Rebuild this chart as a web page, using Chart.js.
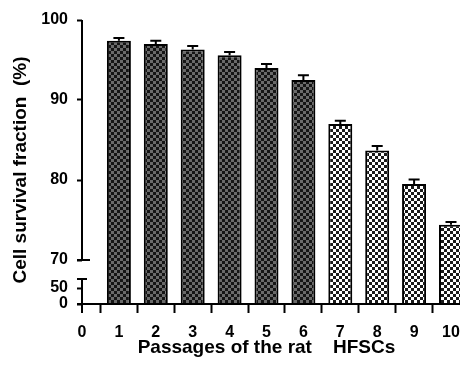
<!DOCTYPE html>
<html>
<head>
<meta charset="utf-8">
<script src="https://cdn.jsdelivr.net/npm/chart.js@4/dist/chart.umd.min.js"></script>
<style>
html,body{margin:0;padding:0;background:#fff;}
#wrap{width:460px;height:371px;position:relative;}
</style>
</head>
<body>
<div id="wrap"><canvas id="c" width="460" height="371"></canvas></div>
<script>
// ---- data ----
const passages = ['0','1','2','3','4','5','6','7','8','9','10'];
const survival = [null, 97.4, 97.0, 96.3, 95.6, 94.0, 92.5, 87.0, 83.7, 79.5, 74.4];
const sem      = [null, 0.35, 0.4, 0.45, 0.4, 0.5, 0.6, 0.4, 0.55, 0.55, 0.35];
const yTickLabels = [0, 50, 70, 80, 90, 100];
const darkUntil = 6; // passages 1-6 dark hatch, 7-10 light hatch
const xTitle = 'Passages of the rat    HFSCs';
const yTitle = 'Cell survival fraction  (%)';

// broken axis transform: lower segment (0-50) compressed, upper (70-100) linear
const LOW_BASE = 64.5, LOW_SLOPE = 2/50;
function tf(v){ return v >= 70 ? v : LOW_BASE + v*LOW_SLOPE; }

function makePattern(light, dark){
  const t = document.createElement('canvas');
  t.width = 6; t.height = 6;
  const g = t.getContext('2d');
  g.fillStyle = dark; g.fillRect(0,0,6,6);
  g.fillStyle = light;
  g.fillRect(0,0,3,3); g.fillRect(3,3,3,3);
  return document.getElementById('c').getContext('2d').createPattern(t,'repeat');
}
const darkPat = makePattern('#6a6a6a', '#151515');
const lightPat = makePattern('#ffffff', '#1a1a1a');

const FONT = "'Liberation Sans', Arial, sans-serif";

const axisPlugin = {
  id: 'axisPlugin',
  afterDraw(chart){
    const ctx = chart.ctx, y = chart.scales.y;
    const ax = chart.chartArea.left;
    const p70 = y.getPixelForValue(tf(70));
    const p100 = y.getPixelForValue(tf(100));
    const p0 = y.getPixelForValue(tf(0));
    const p50 = y.getPixelForValue(tf(50));
    const breakTop = p50 - 9;
    ctx.save();
    ctx.strokeStyle = '#000';
    ctx.lineWidth = 2;
    ctx.lineCap = 'butt';
    ctx.beginPath();
    ctx.moveTo(ax, p100); ctx.lineTo(ax, p70);
    ctx.moveTo(ax-5, p70); ctx.lineTo(ax+8, p70);
    ctx.moveTo(ax, breakTop); ctx.lineTo(ax, p0 + 9);
    ctx.moveTo(ax-5, breakTop); ctx.lineTo(ax+5, breakTop);
    ctx.moveTo(ax-5, p0); ctx.lineTo(chart.width, p0);
    ctx.stroke();
    // y axis title (placed slightly below axis centre as in the reference)
    ctx.fillStyle = '#000';
    ctx.font = 'bold 19px ' + FONT;
    ctx.textAlign = 'center';
    ctx.textBaseline = 'middle';
    ctx.translate(21, 170);
    ctx.rotate(-Math.PI/2);
    ctx.fillText(yTitle, 0, 0);
    ctx.restore();
  }
};

const errPlugin = {
  id: 'errPlugin',
  afterDatasetsDraw(chart){
    const ctx = chart.ctx, y = chart.scales.y;
    const meta = chart.getDatasetMeta(0);
    ctx.save();
    ctx.strokeStyle = '#000';
    ctx.lineWidth = 2;
    meta.data.forEach((bar, i) => {
      if (survival[i] == null) return;
      const top = y.getPixelForValue(tf(survival[i]));
      const e = y.getPixelForValue(tf(survival[i] + sem[i]));
      ctx.beginPath();
      ctx.moveTo(bar.x, top); ctx.lineTo(bar.x, e);
      ctx.moveTo(bar.x - 5.5, e); ctx.lineTo(bar.x + 5.5, e);
      ctx.stroke();
    });
    ctx.restore();
  }
};

new Chart(document.getElementById('c'), {
  type: 'bar',
  data: {
    labels: passages,
    datasets: [{
      data: survival.map(v => v == null ? null : [tf(0), tf(v)]),
      backgroundColor: survival.map((v,i) => i <= darkUntil ? darkPat : lightPat),
      borderColor: '#000',
      borderWidth: 2,
      borderSkipped: 'start',
      categoryPercentage: 1,
      barPercentage: 0.65,
      clip: false
    }]
  },
  options: {
    responsive: false,
    animation: false,
    events: [],
    layout: { padding: { top: 20, right: 0, left: 0, bottom: 0 } },
    plugins: { legend: { display: false }, tooltip: { enabled: false } },
    scales: {
      x: {
        type: 'category',
        offset: false,
        border: { display: false },
        grid: { display: true, drawOnChartArea: false, drawTicks: true, tickLength: 9, tickWidth: 2, tickColor: '#000', color: '#000' },
        ticks: { color: '#000', font: { family: FONT, size: 16, weight: 'bold' }, padding: 10, maxRotation: 0, autoSkip: false },
        title: { display: true, text: xTitle, color: '#000', font: { family: FONT, size: 19, weight: 'bold' }, padding: { top: 4, bottom: 12 } },
        afterFit(s){ s.height = 67; s.paddingRight = 9; s.paddingLeft = 0; }
      },
      y: {
        type: 'linear',
        min: tf(0),
        max: tf(100),
        border: { display: false },
        grid: { display: true, drawOnChartArea: false, drawTicks: true, tickLength: 5, tickWidth: 2, tickColor: '#000', color: '#000' },
        afterBuildTicks(s){ s.ticks = yTickLabels.map(v => ({ value: tf(v) })); },
        ticks: {
          color: '#000',
          font: { family: FONT, size: 16, weight: 'bold' },
          padding: 9,
          callback(val, idx){ return String(yTickLabels[idx]); }
        },
        title: { display: false },
        afterFit(s){ s.width = 82; }
      }
    }
  },
  plugins: [axisPlugin, errPlugin]
});
</script>
</body>
</html>
